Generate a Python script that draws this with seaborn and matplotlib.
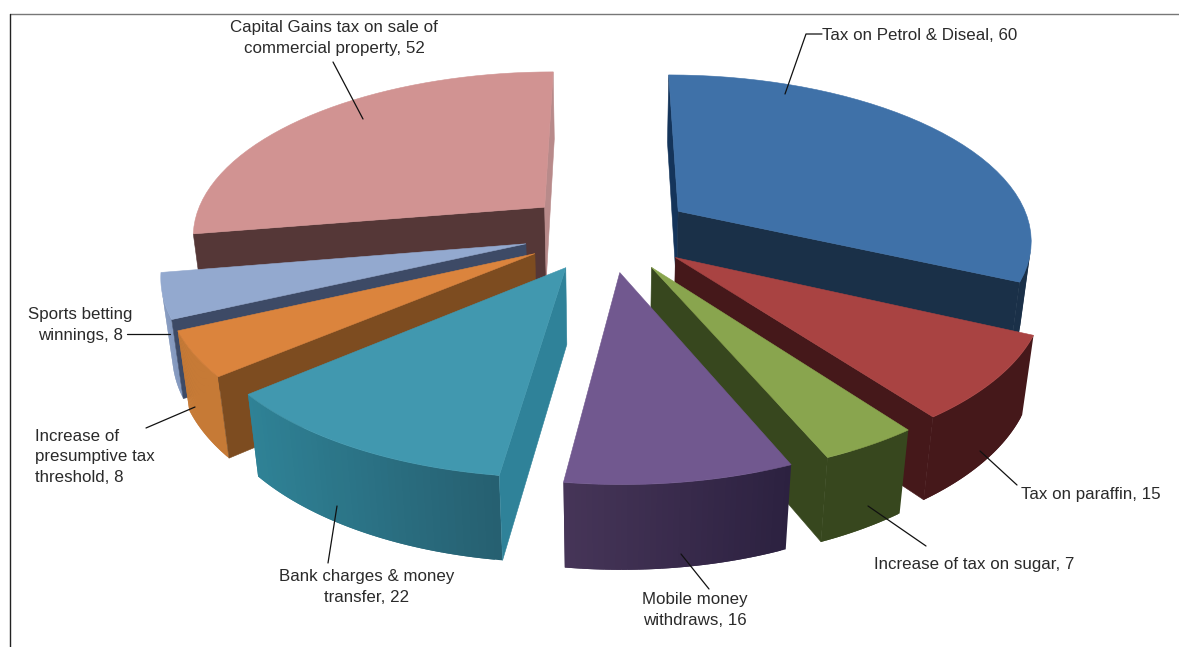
import numpy as np
import matplotlib
matplotlib.use("Agg")
import matplotlib.pyplot as plt
import matplotlib.colors as mc
import seaborn as sns

categories = ["Tax on Petrol & Diseal", "Tax on paraffin", "Increase of tax on sugar",
              "Mobile money withdraws", "Bank charges & money transfer",
              "Increase of presumptive tax threshold", "Sports betting winnings",
              "Capital Gains tax on sale of commercial property"]
values = [60, 15, 7, 16, 22, 8, 8, 52]

top_colors = ["#3f71a8", "#a94342", "#89a54e", "#71588f", "#4198af", "#db843d", "#93a9cf", "#d19392"]
arc_left = ["#1a3048", "#45181a", "#37471e", "#463558", "#2f8296", "#c67a36", "#7f95bd", "#b88a8a"]
arc_right = ["#1a3048", "#45181a", "#37471e", "#2c2140", "#265f70", "#c67a36", "#7f95bd", "#b88a8a"]
start_wall = ["#14345a", "#3a1416", "#37471e", "#463558", "#2f8299", "#7d4c20", "#3d4a66", "#553737"]
end_wall = ["#1a3048", "#45181a", "#37471e", "#463558", "#2f8299", "#7d4c20", "#3d4a66", "#b88a8a"]
draw_order = [7, 0, 6, 5, 1, 4, 2, 3]

sns.set_theme(style="white")
plt.rcParams["font.family"] = ["Liberation Sans", "DejaVu Sans"]

# projection of the pie (perspective)
CX, CY, SX, SY, K, D, M, EXPL = 608, 232, 354, 164, 0.1585, 77, 0.025, 0.24


def project(X, Y, bottom=False):
    w = 1 + K * Y + (M if bottom else 0)
    return CX + SX * X / w, CY - (SY * Y - (D if bottom else 0)) / w


def area(pts):
    p = np.asarray(pts)
    x, y = p[:, 0], p[:, 1]
    return 0.5 * np.sum(x * np.roll(y, -1) - np.roll(x, -1) * y)


fig = plt.figure(figsize=(11.79, 6.47), dpi=100, facecolor="white")
ax = fig.add_axes([0, 0, 1, 1])
ax.set_xlim(0, 1179)
ax.set_ylim(647, 0)
ax.axis("off")

edges = np.radians(np.concatenate([[0], np.cumsum(values)]) * 360 / np.sum(values))


def poly(xy, color, z, lw=0.4):
    xy = np.asarray(xy)
    ax.fill(xy[:, 0], xy[:, 1], color=color, lw=lw, zorder=z)


z = 2
for i in draw_order:
    a0, a1 = edges[i], edges[i + 1]
    mid = (a0 + a1) / 2
    ox, oy = EXPL * np.sin(mid), EXPL * np.cos(mid)
    th = np.linspace(a0, a1, 41)
    Xs, Ys = ox + np.sin(th), oy + np.cos(th)
    top = np.array([project(x, y) for x, y in zip(Xs, Ys)])
    bot = np.array([project(x, y, True) for x, y in zip(Xs, Ys)])
    apex_t = project(ox, oy)
    apex_b = project(ox, oy, True)
    # outer wall, shaded from left to right on screen; only faces turned to the viewer
    cl, cr = np.array(mc.to_rgb(arc_left[i])), np.array(mc.to_rgb(arc_right[i]))
    xmin, xmax = top[:, 0].min(), top[:, 0].max()
    for j in range(len(th) - 1):
        quad = [top[j], top[j + 1], bot[j + 1], bot[j]]
        if area(quad) < 0:
            t = ((top[j, 0] + top[j + 1, 0]) / 2 - xmin) / max(xmax - xmin, 1)
            k = min(j + 2, len(th) - 1)
            over = [top[j], top[k], bot[k], bot[j]]
            poly(over, tuple(cl + (cr - cl) * t), z, lw=0)
            z += 0.001
    z += 1
    # radial walls, only those turned to the viewer
    w0 = [apex_t, top[0], bot[0], apex_b]
    w1 = [apex_t, top[-1], bot[-1], apex_b]
    if area(w0) < 0:
        poly(w0, start_wall[i], z)
    if area(w1) > 0:
        poly(w1, end_wall[i], z)
    z += 1
    poly(np.vstack([[apex_t], top]), top_colors[i], z)
    z += 1

# frame
ax.plot([9.5, 1179], [13.5, 13.5], color="#777777", lw=1.0, zorder=1)
ax.plot([9.5, 9.5], [647, 13.5], color="#222222", lw=1.0, zorder=1)

# labels
label_text = [f"Tax on Petrol & Diseal, {values[0]}", f"Tax on paraffin, {values[1]}",
              f"Increase of tax on sugar, {values[2]}", f"Mobile money\nwithdraws, {values[3]}",
              f"Bank charges & money\ntransfer, {values[4]}",
              f"Increase of\npresumptive tax\nthreshold, {values[5]}",
              f"Sports betting\nwinnings, {values[6]}",
              f"Capital Gains tax on sale of\ncommercial property, {values[7]}"]
label_pos = [(822, 35), (1021, 494), (874, 565), (695, 610), (367, 587), (35, 457), (80, 325), (334, 38)]
label_ha = ["left", "left", "left", "center", "center", "left", "center", "center"]
leaders = [[(822, 34), (806, 34), (785, 94)], [(1017, 485), (980, 451)], [(926, 546), (868, 506)],
           [(709, 589), (681, 554)], [(328, 563), (337, 506)], [(146, 428), (195, 407)],
           [(127, 334), (170, 334)], [(333, 62), (363, 119)]]
for s, p, ha, l in zip(label_text, label_pos, label_ha, leaders):
    ax.text(p[0], p[1], s, ha=ha, va="center", multialignment=ha, fontsize=12.2,
            color="#2a2a2a", linespacing=1.45, zorder=100)
    l = np.array(l)
    ax.plot(l[:, 0], l[:, 1], color="#111111", lw=0.9, zorder=99)

fig.savefig("out.png", dpi=100, facecolor="white")
